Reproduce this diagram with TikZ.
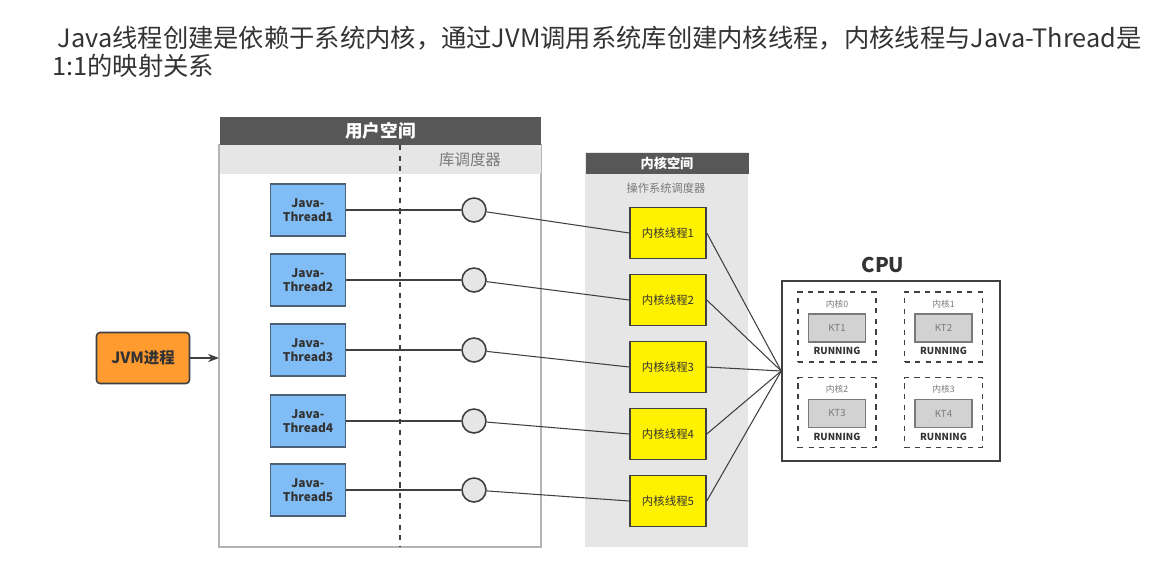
\documentclass[tikz,border=0pt]{standalone}
\usepackage{fontspec}
\setmainfont{Noto Sans CJK SC}
\usetikzlibrary{arrows.meta, positioning}
\definecolor{cink}{HTML}{333333}
\definecolor{cline}{HTML}{404040}
\definecolor{chead}{HTML}{575757}
\definecolor{cpale}{HTML}{E6E6E6}
\definecolor{cframe}{HTML}{B4B4B4}
\definecolor{cblue}{HTML}{80BCF5}
\definecolor{cblueline}{HTML}{4A6178}
\definecolor{cyellow}{HTML}{FFF200}
\definecolor{corange}{HTML}{FF9B2F}
\definecolor{cgrey}{HTML}{7A7A7A}
\definecolor{ckt}{HTML}{D2D2D2}
\tikzset{
  every picture/.style={line width=0.6pt},
  hdr/.style={fill=chead, text=white, anchor=north west, inner sep=0pt, font=\fontsize{10}{12}\selectfont\bfseries},
  subtext/.style={text=cgrey, inner sep=0pt, font=\fontsize{8.8}{10}\selectfont},
  jthread/.style={draw=cblueline, fill=cblue, text=cink, line width=0.9pt, minimum width=1.5cm, minimum height=1.04cm, align=center, inner sep=0pt, font=\fontsize{6.8}{7.8}\selectfont\bfseries},
  kthread/.style={draw=cline, fill=cyellow, text=cink, line width=0.9pt, minimum width=1.52cm, minimum height=1.02cm, inner sep=0pt, font=\fontsize{6.5}{8}\selectfont},
  sched/.style={circle, draw=cline, fill=cpale, line width=0.9pt, minimum size=0.48cm, inner sep=0pt},
  core/.style={draw=cline, dashed, line width=0.9pt, minimum width=1.56cm, minimum height=1.4cm},
  kt/.style={draw=cgrey, fill=ckt, text=cgrey, line width=0.7pt, minimum width=1.14cm, minimum height=0.56cm, inner sep=0pt, font=\fontsize{5.5}{6}\selectfont},
  coretag/.style={text=cgrey, inner sep=0pt, font=\fontsize{5}{6}\selectfont},
  runstate/.style={text=cink, inner sep=0pt, font=\fontsize{5.5}{6}\selectfont\bfseries},
  link/.style={draw=cline, line width=0.6pt},
  arrow/.style={-{Stealth[length=2.2mm]}, draw=cline, line width=0.7pt},
}
\begin{document}
\begin{tikzpicture}[x=0.02cm, y=-0.02cm]
  \useasboundingbox (0,0) rectangle (1167,576);
  \node[anchor=north west, align=left, text=cink, inner sep=0pt, font=\fontsize{14.4}{16}\selectfont] (title) at (52,26)
    {\hspace*{3pt}Java线程创建是依赖于系统内核，通过JVM调用系统库创建内核线程，内核线程与Java-Thread是\\1:1的映射关系};

  % user space
  \draw[cframe, line width=0.9pt] (219,145) rectangle (541,547);
  \node[hdr, minimum width=6.44cm, minimum height=0.58cm] (userhdr) at (219,116) {用户空间};
  \fill[cpale] (219.5,145) rectangle (540.5,174);
  \node[subtext] (lib) at (470,160) {库调度器};
  \draw[cline, dashed, line width=0.9pt] (400,145) -- (400,547);

  % kernel space
  \fill[cpale] (585,152) rectangle (748,547);
  \node[hdr, minimum width=3.26cm, minimum height=0.42cm, font=\fontsize{7.5}{9}\selectfont\bfseries] (kernhdr) at (585,152) {内核空间};
  \node[subtext, font=\fontsize{6.4}{8}\selectfont] (os) at (666,188) {操作系统调度器};

  \node[draw=cline, fill=corange, text=cink, rounded corners=2pt, line width=0.9pt, minimum width=1.86cm, minimum height=1.02cm, font=\fontsize{8.8}{10}\selectfont\bfseries] (jvm) at (143,358) {JVM进程};
  \draw[arrow] (jvm.east) -- (219,358);

  \foreach \i/\y in {1/210,2/280,3/350,4/421,5/490} {
    \node[jthread] (j\i) at (308,\y) {Java-\\Thread\i};
    \node[sched] (s\i) at (474,\y) {};
  }
  \foreach \i/\y in {1/233,2/300,3/367,4/434,5/501}
    \node[kthread] (k\i) at (668,\y) {内核线程\i};

  % cpu
  \node[draw=cline, line width=0.9pt, minimum width=4.36cm, minimum height=3.6cm] (cpu) at (891,371) {};
  \node[text=cink, inner sep=0pt, font=\fontsize{11.5}{13}\selectfont\bfseries] (cputitle) at (883,265) {CPU};
  \foreach \c/\n/\x/\y in {0/1/837/327, 1/2/943.5/327, 2/3/837/412.5, 3/4/943.5/412.5} {
    \node[core] (c\c) at (\x,\y) {};
    \node[kt] (kt\c) at (\x,\y+1) {KT\n};
    \node[coretag] (tag\c) at (\x,\y-23) {内核\c};
    \node[runstate] (run\c) at (\x,\y+24) {RUNNING};
  }

  \foreach \i in {1,...,5} {
    \draw[link] (j\i) -- (s\i);
    \draw[link] (s\i) -- (k\i.west);
    \draw[link] (k\i.east) -- (cpu.west);
  }
\end{tikzpicture}
\end{document}
